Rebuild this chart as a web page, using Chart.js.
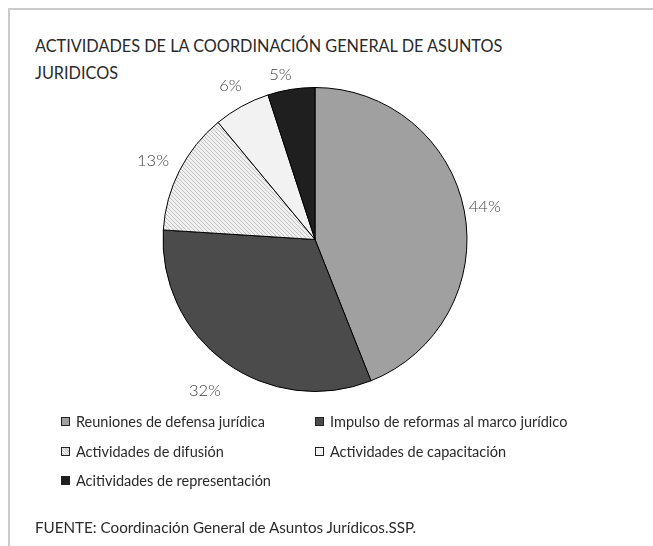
<!DOCTYPE html>
<html>
<head>
<meta charset="utf-8">
<script src="https://cdn.jsdelivr.net/npm/chart.js@4.4.1/dist/chart.umd.min.js"></script>
<style>
  html, body { margin: 0; padding: 0; background: #fff; }
  body { width: 653px; height: 546px; position: relative; overflow: hidden; font-family: Lato, "Open Sans", sans-serif; }
  #frame { position: absolute; left: 8px; top: 8px; width: 700px; height: 600px; border: 2px solid #cbcbcb; box-sizing: border-box; }
  #title { position: absolute; left: 35px; top: 32px; font-size: 16.3px; line-height: 27px; color: #2a2a2a; white-space: nowrap; }
  #chartWrap { position: absolute; left: 0; top: 0; width: 653px; height: 546px; }
  #legend { position: absolute; left: 61px; top: 411px; font-size: 14.5px; color: #2a2a2a; }
  .li { position: absolute; white-space: nowrap; height: 21px; line-height: 21px; }
  .box { position: absolute; left: 0; top: 6px; width: 9px; height: 9px; border: 1px solid #222; box-sizing: border-box; }
  .lt { position: absolute; left: 15px; top: 0; }
  #footer { position: absolute; left: 35px; top: 517px; font-size: 15.2px; line-height: 20px; color: #2a2a2a; white-space: nowrap; }
</style>
</head>
<body>
<div id="frame"></div>
<div id="title"></div>
<div id="chartWrap"><canvas id="c" width="653" height="546"></canvas></div>
<div id="legend"></div>
<div id="footer"></div>
<script>
// ---- data ----
const titleLines = ["ACTIVIDADES DE LA COORDINACIÓN GENERAL DE ASUNTOS", "JURIDICOS"];
const categories = [
  "Reuniones de defensa jurídica",
  "Impulso de reformas al marco jurídico",
  "Actividades de difusión",
  "Actividades de capacitación",
  "Acitividades de representación"
];
const percentages = [44, 32, 13, 6, 5];
const sourceNote = "FUENTE: Coordinación General de Asuntos Jurídicos.SSP.";

// ---- styles ----
function hatchPattern() {
  const t = document.createElement('canvas');
  t.width = 4; t.height = 4;
  const g = t.getContext('2d');
  g.fillStyle = '#f0f0f0';
  g.fillRect(0, 0, 4, 4);
  g.fillStyle = '#c2c2c2';
  for (let i = 0; i < 4; i++) g.fillRect(i, i, 1, 1);
  return g.createPattern(t, 'repeat');
}
const hatch = hatchPattern();
const sliceColors = ['#a0a0a0', '#4b4b4b', hatch, '#f2f2f2', '#1f1f1f'];
const legendCss = ['#a0a0a0', '#4b4b4b', 'repeating-linear-gradient(45deg,#f0f0f0 0 1px,#c2c2c2 1px 2px)', '#f2f2f2', '#1f1f1f'];
const labelGap = [4, 21, 11, 13, 8];
const labelTurn = [0, 0, -0.02, 0, -0.05];

document.getElementById('title').innerHTML = titleLines.join('<br>');
document.getElementById('footer').textContent = sourceNote;

const legend = document.getElementById('legend');
categories.forEach((name, i) => {
  const col = i % 2, row = Math.floor(i / 2);
  const el = document.createElement('div');
  el.className = 'li';
  el.style.left = (col * 254) + 'px';
  el.style.top = (row * 29.5) + 'px';
  el.innerHTML = '<span class="box" style="background:' + legendCss[i] + '"></span><span class="lt"></span>';
  el.querySelector('.lt').textContent = name;
  legend.appendChild(el);
});

const outsideLabels = {
  id: 'outsideLabels',
  afterDatasetsDraw(chart) {
    const ctx = chart.ctx;
    const meta = chart.getDatasetMeta(0);
    ctx.save();
    ctx.font = '300 16.5px Lato';
    ctx.fillStyle = '#404040';
    ctx.textAlign = 'center';
    ctx.textBaseline = 'middle';
    meta.data.forEach((arc, i) => {
      const p = arc.getProps(['x', 'y', 'startAngle', 'endAngle', 'outerRadius'], true);
      const mid = (p.startAngle + p.endAngle) / 2 + labelTurn[i];
      const txt = percentages[i] + '%';
      const w = ctx.measureText(txt).width, h = 12;
      const c = Math.cos(mid), s = Math.sin(mid);
      const ext = Math.abs(c) * w / 2 + Math.abs(s) * h / 2;
      const d = p.outerRadius + labelGap[i] + ext;
      ctx.fillText(txt, p.x + c * d, p.y + s * d);
    });
    ctx.restore();
  }
};

new Chart(document.getElementById('c'), {
  type: 'pie',
  data: {
    labels: categories,
    datasets: [{
      data: percentages,
      backgroundColor: sliceColors,
      borderColor: '#000',
      borderWidth: 1,
      hoverOffset: 0
    }]
  },
  options: {
    responsive: false,
    animation: false,
    events: [],
    layout: { padding: { left: 162, top: 87, right: 185, bottom: 154 } },
    plugins: { legend: { display: false }, tooltip: { enabled: false }, title: { display: false } }
  },
  plugins: [outsideLabels]
});
</script>
</body>
</html>
